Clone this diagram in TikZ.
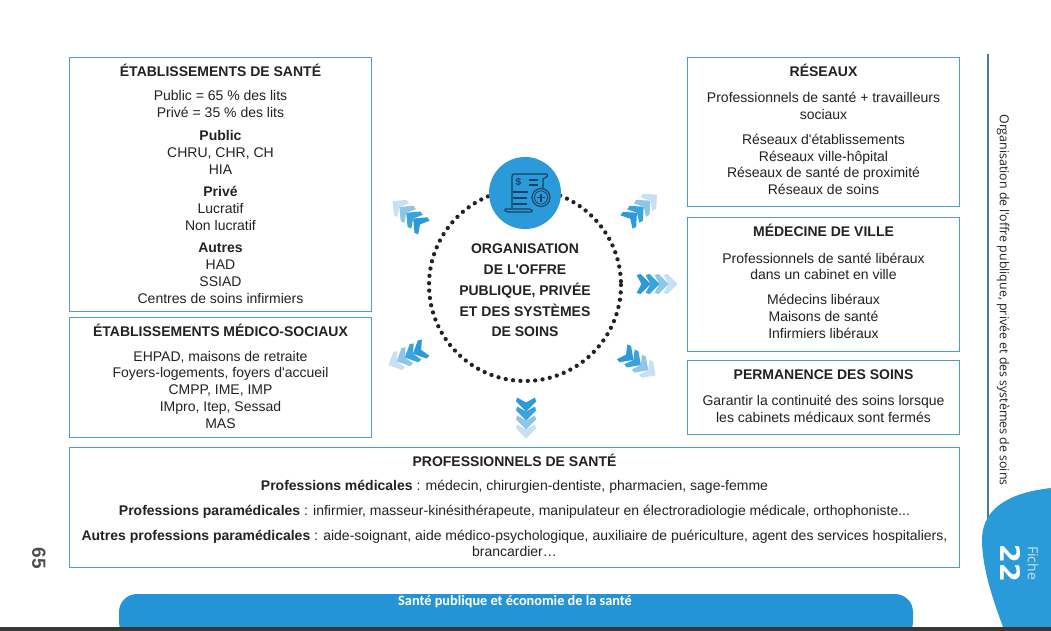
\documentclass[tikz,border=0pt]{standalone}
\usepackage{fontspec}
\setmainfont{Liberation Sans}[Ligatures=TeXOff]
\newfontfamily\sidefont{Open Sans}[Ligatures=TeXOff]
\newfontfamily\bandfont{Carlito}
\newfontfamily\fichefont{DejaVu Sans}
\definecolor{cadre}{HTML}{4F9FC4}
\definecolor{bleu}{HTML}{2A9AD8}
\definecolor{bleub}{HTML}{3AA3DC}
\definecolor{bleuc}{HTML}{8EC6EA}
\definecolor{bleud}{HTML}{C8E0F3}
\definecolor{bande}{HTML}{2594D6}
\definecolor{marine}{HTML}{1C3F66}
\definecolor{texte}{HTML}{222222}
\tikzset{
  boite/.style={draw=cadre,line width=1pt,fill=white,align=center,inner sep=0pt,
    anchor=north west,text=texte,font=\fontsize{14}{16.8}\selectfont},
  fleches/.pic={
    \foreach \dx/\teinte in {13.5/bleud,4.5/bleuc,-4.5/bleub,-13.5/bleu}
      \fill[\teinte,shift={(\dx,0)}] (8,0) -- (-2,10) -- (-6,9) -- (-1,0) -- (-6,-9) -- (-2,-10) -- cycle;
  },
  trait/.style={marine,line width=1.1pt},
}
\newcommand{\titre}[1]{{\fontsize{14}{16.8}\selectfont\bfseries #1}}
\newcommand{\cale}[1]{\rule[-#1]{0pt}{#1}}

\begin{document}
\begin{tikzpicture}[x=1pt,y=-1pt]
  \useasboundingbox (0,0) rectangle (1051,631);

  % boites
  \node[boite,minimum width=302pt,minimum height=254pt] (etab) at (69,57)
    {\titre{ÉTABLISSEMENTS DE SANTÉ}\\[8pt]
     Public = 65 \% des lits\\ Privé = 35 \% des lits\\[6pt]
     \textbf{Public}\\ CHRU, CHR, CH\\ HIA\\[5.5pt]
     \textbf{Privé}\\ Lucratif\\ Non lucratif\\[6pt]
     \textbf{Autres}\\ HAD\\ SSIAD\\ Centres de soins infirmiers\cale{2pt}};
  \node[boite,minimum width=302pt,minimum height=120pt] (medsoc) at (69,317)
    {\titre{ÉTABLISSEMENTS MÉDICO-SOCIAUX}\\[8pt]
     EHPAD, maisons de retraite\\ Foyers-logements, foyers d'accueil\\
     CMPP, IME, IMP\\ IMpro, Itep, Sessad\\ MAS\cale{3pt}};
  \node[boite,minimum width=272pt,minimum height=149pt] (reseaux) at (687,57)
    {\titre{RÉSEAUX}\\[9pt]
     Professionnels de santé + travailleurs\\ sociaux\\[8pt]
     Réseaux d'établissements\\ Réseaux ville-hôpital\\
     Réseaux de santé de proximité\\ Réseaux de soins\cale{5pt}};
  \node[boite,minimum width=272pt,minimum height=134pt] (ville) at (687,217)
    {\titre{MÉDECINE DE VILLE}\\[10pt]
     Professionnels de santé libéraux\\ dans un cabinet en ville\\[8pt]
     Médecins libéraux\\ Maisons de santé\\ Infirmiers libéraux\cale{7pt}};
  \node[boite,minimum width=272pt,minimum height=74pt] (perm) at (687,360)
    {\titre{PERMANENCE DES SOINS}\\[10pt]
     Garantir la continuité des soins lorsque\\ les cabinets médicaux sont fermés\cale{3pt}};
  \node[boite,minimum width=890pt,minimum height=120pt] (pros) at (69,447)
    {\titre{PROFESSIONNELS DE SANTÉ}\\[7pt]
     \textbf{Professions médicales} : médecin, chirurgien-dentiste, pharmacien, sage-femme\\[8pt]
     \textbf{Professions paramédicales} : infirmier, masseur-kinésithérapeute, manipulateur en électroradiologie médicale, orthophoniste...\\[8pt]
     \textbf{Autres professions paramédicales} : aide-soignant, aide médico-psychologique, auxiliaire de puériculture, agent des services hospitaliers,\\
     brancardier…\cale{4pt}};

  % cercle central
  \draw[texte,line width=4.3pt,line cap=round,dash pattern=on 0pt off 7.4pt] (525,285) circle (96);
  \node[font=\fontsize{14}{20.7}\selectfont\bfseries,text=texte,align=center] (orga) at (525,290.5)
    {ORGANISATION\\ DE L'OFFRE\\ PUBLIQUE, PRIVÉE\\ ET DES SYSTÈMES\\ DE SOINS};
  \node[circle,fill=bleu,minimum size=72pt,inner sep=0pt] (icone) at (525,193) {};

  % icone
  \draw[trait,rounded corners=2pt] (512,208) -- (512,174) -- (548,174) -- (547,178) -- (543,178) -- (543,188);
  \draw[trait,rounded corners=1.5pt] (504,209) -- (531,209) -- (533,212) -- (506,212) -- cycle;
  \node[text=marine,font=\fontsize{10}{10}\selectfont\bfseries,inner sep=0pt] (dollar) at (518.5,182) {\$};
  \foreach \ya/\xa/\xb in {180/529/538,185/529/538,192/513/528,198/513/527,204/513/527}
    \draw[trait,line width=1.4pt] (\xa,\ya) -- (\xb,\ya);
  \draw[trait,fill=bleu] (541,197.5) circle (9);
  \draw[trait,line width=.8pt] (541,197.5) circle (6.6);
  \draw[trait,line width=1.8pt] (537,197.5) -- (545,197.5) (541,193.5) -- (541,201.5);

  % fleches
  \foreach \xc/\yc/\ang in {409/215/140,641/209/42,656/284/0,638/363/-35,526/417/-90,408/356/205}
    \path (\xc,\yc) pic[rotate=\ang] {fleches};

  % marge droite
  \draw[cadre!80!black,line width=2pt] (988,54) -- (988,525);
  \node[rotate=-90,text=texte,font=\sidefont\fontsize{12.4}{13}\selectfont,inner sep=0pt] (rubrique) at (1003,300)
    {Organisation de l'offre publique, privée et des systèmes de soins};
  \fill[bleu] (1051,488) .. controls (1015,492) and (982,505) .. (982,540)
    .. controls (982,570) and (995,605) .. (1003,627) -- (1051,627) -- cycle;
  \node[rotate=-90,text=white,font=\fichefont\bfseries\fontsize{27}{27}\selectfont,inner sep=0pt] (numero) at (1011,563) {22};
  \node[rotate=-90,text=bleud,font=\sidefont\fontsize{14}{14}\selectfont,inner sep=0pt] (fiche) at (1033,563) {Fiche};
  \node[rotate=-90,text=texte!80,font=\bfseries\fontsize{19}{19}\selectfont,inner sep=0pt] (page) at (39,558) {65};

  % bandeau
  \fill[bande,rounded corners=18pt] (119,640) -- (119,594) -- (913,594) -- (913,640) -- cycle;
  \node[text=white,font=\bandfont\bfseries\fontsize{14.3}{14}\selectfont,inner sep=0pt] (bandeau) at (515,602)
    {Santé publique et économie de la santé};
  \fill[texte!90] (0,627) rectangle (1051,631);
\end{tikzpicture}
\end{document}
